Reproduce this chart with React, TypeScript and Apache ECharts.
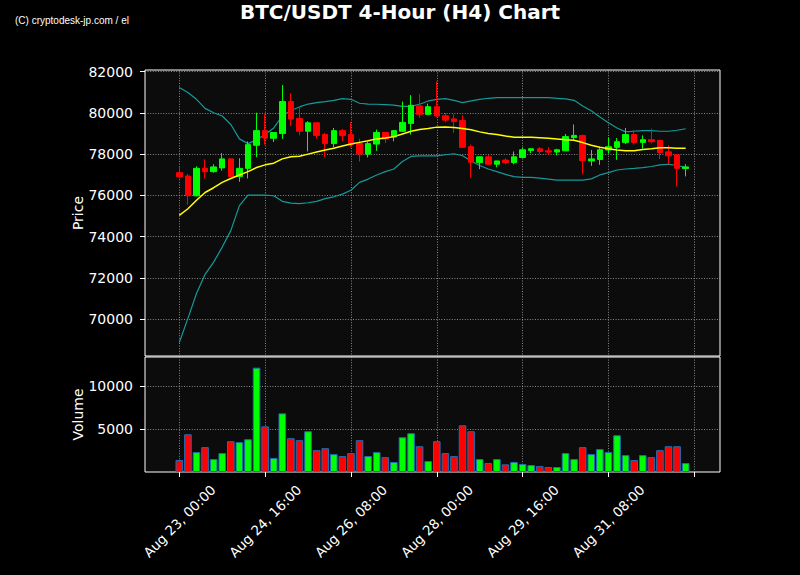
import React, { useEffect, useRef } from "react";
import * as echarts from "echarts";

const TITLE = "BTC/USDT 4-Hour (H4) Chart";
const WATERMARK = "(C) cryptodesk-jp.com / el";

// 4-hour candles, index 0 = Aug 23 00:00
const OPEN = [77100, 76940, 75980, 77310, 77150, 77330, 77770, 76910, 77310, 78430, 79140, 78770, 79000, 80550, 79730, 79110, 79520, 78950, 78510, 79140, 78950, 78510, 78000, 78490, 79050, 78830, 79110, 79490, 80340, 79930, 80300, 79860, 79710, 79630, 78360, 77590, 77870, 77510, 77710, 77590, 77840, 78180, 78260, 78160, 78100, 78160, 78800, 78900, 77670, 77740, 78200, 78330, 78570, 78950, 78570, 78700, 78670, 78110, 77970, 77300];
const CLOSE = [76900, 75980, 77310, 77150, 77380, 77770, 76910, 77310, 78460, 79140, 78780, 79050, 80550, 79700, 79110, 79520, 78910, 78510, 79140, 78900, 78460, 78000, 78510, 79050, 78740, 79140, 79540, 80370, 79930, 80300, 79850, 79650, 79580, 78330, 77610, 77870, 77510, 77670, 77590, 77870, 78210, 78260, 78130, 78100, 78210, 78850, 78910, 77690, 77770, 78210, 78360, 78600, 78950, 78570, 78700, 78600, 78080, 77920, 77310, 77380];
const LOW = [76820, 75550, 75950, 76820, 77100, 77200, 76890, 76660, 76820, 77850, 78460, 78590, 78740, 79360, 78910, 78130, 78750, 77850, 78330, 78620, 78330, 77640, 77840, 78160, 78540, 78620, 79080, 78950, 79760, 79890, 79810, 79550, 79030, 78310, 76860, 77270, 77500, 77360, 77510, 77510, 77800, 78050, 78000, 77970, 77940, 78150, 78700, 77020, 77430, 77480, 78050, 77720, 78490, 78460, 78260, 78520, 77760, 77510, 76430, 76920];
const HIGH = [77390, 77040, 77410, 77750, 77510, 78050, 77780, 77800, 78620, 80010, 79930, 79060, 81350, 80960, 80300, 79600, 79550, 79030, 79270, 79230, 79550, 78750, 78620, 79190, 79060, 79160, 80550, 80860, 80910, 80450, 81530, 79990, 79930, 79890, 78460, 77880, 77970, 77680, 77800, 78130, 78330, 78290, 78340, 78340, 78260, 78980, 79440, 78950, 78200, 78330, 78820, 78780, 79270, 79180, 78910, 79240, 78690, 78430, 78000, 77510];
const VOLUME = [1390, 4390, 2310, 2890, 1500, 2200, 3580, 3470, 3810, 12130, 5310, 1620, 6820, 3930, 3700, 4740, 2540, 2770, 2080, 1850, 2200, 3700, 1850, 2310, 1730, 1160, 4040, 4510, 3000, 1270, 3580, 2200, 1850, 5430, 4740, 1500, 1040, 1500, 890, 1160, 920, 810, 690, 580, 580, 2200, 1500, 2890, 2080, 2660, 2310, 4270, 1960, 1390, 1960, 1730, 2540, 3000, 3000, 1040];
const MA20 = [75030, 75350, 75760, 76140, 76370, 76630, 76820, 76990, 77150, 77350, 77480, 77560, 77770, 77870, 77900, 78000, 78100, 78200, 78290, 78390, 78490, 78570, 78650, 78740, 78780, 78850, 78980, 79110, 79190, 79240, 79310, 79320, 79290, 79240, 79180, 79080, 79000, 78950, 78880, 78820, 78820, 78820, 78800, 78770, 78740, 78700, 78670, 78560, 78430, 78330, 78260, 78200, 78160, 78160, 78230, 78260, 78310, 78310, 78290, 78280];
const UPPER = [81230, 80990, 80660, 80220, 80010, 79850, 79440, 78740, 78510, 78700, 78950, 79270, 79850, 80120, 80290, 80430, 80500, 80550, 80610, 80690, 80660, 80470, 80430, 80420, 80400, 80380, 80320, 80320, 80420, 80580, 80660, 80690, 80610, 80500, 80580, 80660, 80710, 80740, 80740, 80740, 80740, 80740, 80740, 80740, 80710, 80680, 80610, 80340, 80100, 79800, 79520, 79270, 79080, 79110, 79140, 79140, 79110, 79110, 79160, 79230];
const LOWER = [68860, 70030, 71240, 72170, 72760, 73490, 74290, 75500, 76010, 76010, 76010, 75980, 75710, 75620, 75600, 75640, 75710, 75840, 75930, 76060, 76250, 76630, 76790, 76990, 77150, 77280, 77640, 77890, 77920, 77920, 77920, 77970, 78020, 77920, 77670, 77450, 77280, 77150, 77020, 76910, 76870, 76870, 76840, 76790, 76740, 76740, 76740, 76740, 76800, 76990, 77100, 77230, 77280, 77310, 77350, 77400, 77480, 77510, 77450, 77350];

const TICK_LABELS = ["Aug 23, 00:00", "Aug 24, 16:00", "Aug 26, 08:00", "Aug 28, 00:00", "Aug 29, 16:00", "Aug 31, 08:00"];
const PRICE_TICKS = [70000, 72000, 74000, 76000, 78000, 80000, 82000];
const VOLUME_TICKS = [5000, 10000];

const X_START = -4;
const X_END = 63;
const TICK_STEP = 10;

const UP = "#00ff00";
const DOWN = "#ff0000";
const FONT = "DejaVu Sans";

export default function App() {
  const ref = useRef<HTMLDivElement>(null);

  useEffect(() => {
    if (!ref.current) return;
    const chart = echarts.init(ref.current, null, { renderer: "svg" });

    const cats: string[] = [];
    for (let i = X_START; i <= X_END; i++) cats.push(String(i));
    const at = (arr: number[], c: string) => {
      const i = Number(c);
      return i >= 0 && i < arr.length ? arr[i] : "-";
    };
    const candles = cats.map((c) => {
      const i = Number(c);
      if (i < 0 || i >= OPEN.length) return "-";
      return [OPEN[i], CLOSE[i], LOW[i], HIGH[i]];
    });
    const vols = cats.map((c) => {
      const i = Number(c);
      if (i < 0 || i >= VOLUME.length) return "-";
      const col = CLOSE[i] >= OPEN[i] ? UP : DOWN;
      return { value: VOLUME[i], itemStyle: { color: col } };
    });
    const isTick = (index: number) => (index + X_START) % TICK_STEP === 0;

    const grid = {
      left: 145,
      right: 80,
      show: true,
      backgroundColor: "#0c0c0c",
      borderColor: "#ffffff",
      borderWidth: 1,
    };
    const splitLineStyle = { color: "#a8a8a8", width: 0.8, type: [1, 1.6] as any };
    const plain = (v: number) => String(v);

    const option: any = {
      animation: false,
      backgroundColor: "#000000",
      title: {
        text: TITLE,
        left: "center",
        top: -3,
        textStyle: { color: "#ffffff", fontSize: 20, fontWeight: "bold", fontFamily: FONT },
      },
      graphic: [
        {
          type: "text",
          left: 15,
          top: 15,
          style: { text: WATERMARK, fill: "#ffffff", fontSize: 10, fontFamily: "Liberation Sans Narrow, Liberation Sans" },
        },
      ],
      grid: [
        { ...grid, top: 70, height: 286 },
        { ...grid, top: 357, height: 115 },
      ],
      xAxis: [
        {
          type: "category",
          gridIndex: 0,
          data: cats,
          boundaryGap: false,
          axisLine: { show: false },
          axisTick: { show: false },
          axisLabel: { show: false },
          splitLine: { show: true, interval: isTick, lineStyle: splitLineStyle },
        },
        {
          type: "category",
          gridIndex: 1,
          data: cats,
          boundaryGap: false,
          axisLine: { show: false },
          axisTick: { show: true, interval: isTick, length: 5, lineStyle: { color: "#ffffff" } },
          axisLabel: {
            interval: isTick,
            rotate: 45,
            align: "center",
            verticalAlign: "middle",
            margin: 49,
            color: "#ffffff",
            fontSize: 13.5,
            fontFamily: FONT,
            formatter: (v: string) => {
              const i = Number(v);
              const k = i / TICK_STEP;
              return i >= 0 && Number.isInteger(k) && k < TICK_LABELS.length ? TICK_LABELS[k] : "";
            },
          },
          splitLine: { show: true, interval: isTick, lineStyle: splitLineStyle },
        },
      ],
      yAxis: [
        {
          type: "value",
          gridIndex: 0,
          min: 68206,
          max: 82082,
          name: "Price",
          nameLocation: "middle",
          nameGap: 60,
          nameMoveOverlap: false,
          nameTextStyle: { color: "#ffffff", fontSize: 14, fontFamily: FONT },
          axisLine: { show: false },
          axisTick: { show: true, length: 5, customValues: PRICE_TICKS, lineStyle: { color: "#ffffff" } },
          axisLabel: { customValues: PRICE_TICKS, formatter: plain, color: "#ffffff", fontSize: 14, fontFamily: FONT, margin: 12 },
          splitLine: { show: true, lineStyle: splitLineStyle },
        },
        {
          type: "value",
          gridIndex: 1,
          min: 0,
          max: 13372,
          name: "Volume",
          nameLocation: "middle",
          nameGap: 60,
          nameMoveOverlap: false,
          nameTextStyle: { color: "#ffffff", fontSize: 14, fontFamily: FONT },
          axisLine: { show: false },
          axisTick: { show: true, length: 5, customValues: VOLUME_TICKS, lineStyle: { color: "#ffffff" } },
          axisLabel: { customValues: VOLUME_TICKS, formatter: plain, color: "#ffffff", fontSize: 14, fontFamily: FONT, margin: 12 },
          splitLine: { show: true, lineStyle: splitLineStyle },
        },
      ],
      series: [
        {
          type: "candlestick",
          xAxisIndex: 0,
          yAxisIndex: 0,
          data: candles,
          barWidth: 6,
          itemStyle: { color: UP, color0: DOWN, borderColor: UP, borderColor0: DOWN, borderWidth: 1 },
          z: 3,
        },
        {
          type: "line",
          xAxisIndex: 0,
          yAxisIndex: 0,
          data: cats.map((c) => at(UPPER, c)),
          symbol: "none",
          lineStyle: { color: "#159999", width: 1.2 },
          z: 2,
        },
        {
          type: "line",
          xAxisIndex: 0,
          yAxisIndex: 0,
          data: cats.map((c) => at(LOWER, c)),
          symbol: "none",
          lineStyle: { color: "#159999", width: 1.2 },
          z: 2,
        },
        {
          type: "line",
          xAxisIndex: 0,
          yAxisIndex: 0,
          data: cats.map((c) => at(MA20, c)),
          symbol: "none",
          lineStyle: { color: "#ffff00", width: 1.5 },
          z: 4,
        },
        {
          type: "bar",
          xAxisIndex: 1,
          yAxisIndex: 1,
          data: vols,
          barWidth: 7.6,
          itemStyle: { borderColor: "#1f6fb4", borderWidth: 1 },
        },
      ],
    };

    chart.setOption(option);
    return () => chart.dispose();
  }, []);

  return <div ref={ref} style={{ position: "fixed", left: 0, top: 0, width: 800, height: 575 }} />;
}
